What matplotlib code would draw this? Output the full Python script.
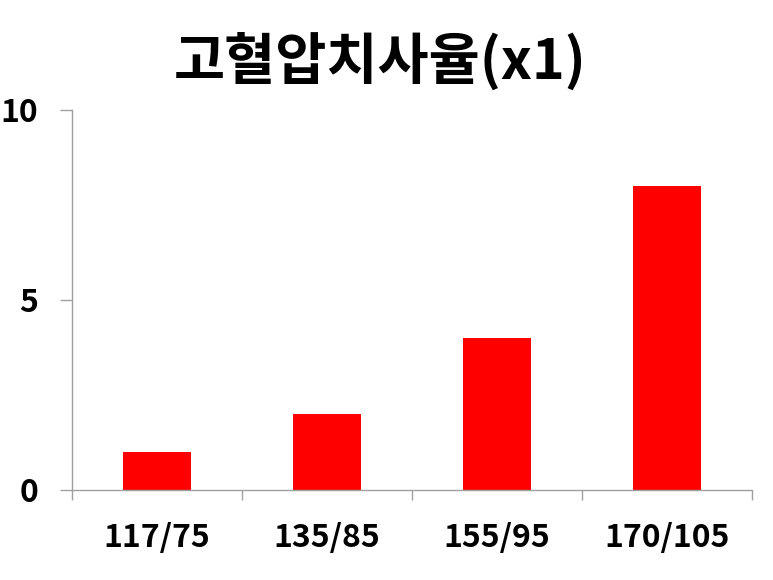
import matplotlib
matplotlib.use("Agg")
from matplotlib import pyplot as plt

plt.rcParams["font.family"] = ["Noto Sans CJK KR", "DejaVu Sans"]
plt.rcParams["font.weight"] = "bold"

categories = ["117/75", "135/85", "155/95", "170/105"]
values = [1, 2, 4, 8]
title = "고혈압치사율(x1)"

fig = plt.figure(figsize=(7.73, 5.80), dpi=100)
ax = fig.add_axes([72 / 773, 90 / 580, 680 / 773, 380 / 580])

x = range(len(categories))
ax.bar(x, values, width=0.4, color="#ff0000")

ax.set_xlim(-0.5, len(categories) - 0.5)
ax.set_ylim(0, 10)
ax.set_yticks([0, 5, 10])
ax.set_xticks(list(x))
ax.set_xticklabels(categories)
ax.set_xticks([i - 0.5 for i in range(len(categories) + 1)], minor=True)

ax.tick_params(axis="x", which="major", length=0, pad=23, labelsize=23)
ax.tick_params(axis="x", which="minor", length=7, width=1, color="#a0a0a0")
ax.tick_params(axis="y", length=8.5, width=1, color="#a0a0a0", pad=16, labelsize=23)
for lab in ax.get_xticklabels() + ax.get_yticklabels():
    lab.set_fontweight("bold")

for side in ["top", "right"]:
    ax.spines[side].set_visible(False)
for side in ["left", "bottom"]:
    ax.spines[side].set_color("#a0a0a0")
    ax.spines[side].set_linewidth(1)

fig.text(380 / 773, 1 - 62 / 580, title, ha="center", va="center",
         fontsize=40, fontweight="bold")

fig.savefig("out.png", dpi=100)
